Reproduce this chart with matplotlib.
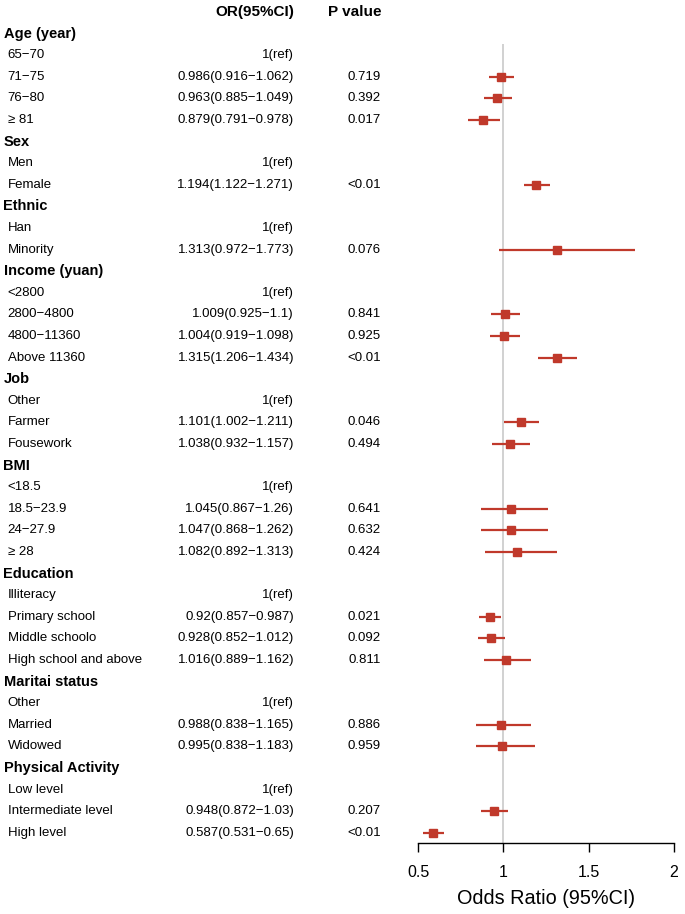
import matplotlib
matplotlib.use('Agg')
import matplotlib.pyplot as plt
import matplotlib.transforms as mtransforms
import numpy as np

plt.rcParams['font.family'] = ['Liberation Sans', 'DejaVu Sans']

nan = np.nan

# rows of the table (group headers have no estimate)
labels = ['Age (year)', '65\u221270', '71\u221275', '76\u221280', '\u2265 81',
          'Sex', 'Men', 'Female',
          'Ethnic', 'Han', 'Minority',
          'Income (yuan)', '<2800', '2800\u22124800', '4800\u221211360', 'Above 11360',
          'Job', 'Other', 'Farmer', 'Fousework',
          'BMI', '<18.5', '18.5\u221223.9', '24\u221227.9', '\u2265 28',
          'Education', 'Illiteracy', 'Primary school', 'Middle schoolo', 'High school and above',
          'Maritai status', 'Other', 'Married', 'Widowed',
          'Physical Activity', 'Low level', 'Intermediate level', 'High level']

is_group = [True, False, False, False, False,
            True, False, False,
            True, False, False,
            True, False, False, False, False,
            True, False, False, False,
            True, False, False, False, False,
            True, False, False, False, False,
            True, False, False, False,
            True, False, False, False]

is_ref = [False, True, False, False, False,
          False, True, False,
          False, True, False,
          False, True, False, False, False,
          False, True, False, False,
          False, True, False, False, False,
          False, True, False, False, False,
          False, True, False, False,
          False, True, False, False]

or_est = [nan, nan, 0.986, 0.963, 0.879,
          nan, nan, 1.194,
          nan, nan, 1.313,
          nan, nan, 1.009, 1.004, 1.315,
          nan, nan, 1.101, 1.038,
          nan, nan, 1.045, 1.047, 1.082,
          nan, nan, 0.92, 0.928, 1.016,
          nan, nan, 0.988, 0.995,
          nan, nan, 0.948, 0.587]

ci_low = [nan, nan, 0.916, 0.885, 0.791,
          nan, nan, 1.122,
          nan, nan, 0.972,
          nan, nan, 0.925, 0.919, 1.206,
          nan, nan, 1.002, 0.932,
          nan, nan, 0.867, 0.868, 0.892,
          nan, nan, 0.857, 0.852, 0.889,
          nan, nan, 0.838, 0.838,
          nan, nan, 0.872, 0.531]

ci_high = [nan, nan, 1.062, 1.049, 0.978,
           nan, nan, 1.271,
           nan, nan, 1.773,
           nan, nan, 1.1, 1.098, 1.434,
           nan, nan, 1.211, 1.157,
           nan, nan, 1.26, 1.262, 1.313,
           nan, nan, 0.987, 1.012, 1.162,
           nan, nan, 1.165, 1.183,
           nan, nan, 1.03, 0.65]

p_text = ['', '', '0.719', '0.392', '0.017',
          '', '', '<0.01',
          '', '', '0.076',
          '', '', '0.841', '0.925', '<0.01',
          '', '', '0.046', '0.494',
          '', '', '0.641', '0.632', '0.424',
          '', '', '0.021', '0.092', '0.811',
          '', '', '0.886', '0.959',
          '', '', '0.207', '<0.01']

xticks = [0.5, 1, 1.5, 2]

red = '#C0392B'
W, H = 685, 914
n = len(labels)
rows = np.arange(1, n + 1)

fig = plt.figure(figsize=(W / 100, H / 100), dpi=100)
# forest panel: x 0.5..2 spans pixels 418..674, rows 21.6 px apart starting at y=12
ax = fig.add_axes([418 / W, (H - 843) / H, 256 / W, 843 / H])
ax.set_xlim(0.5, 2)
ax.set_ylim((843 - 12) / 21.6, -12 / 21.6)

# reference line
ax.vlines(1, 1.5, ax.get_ylim()[0], color='#c9c9c9', lw=1.2, zorder=1)

est = np.array(or_est)
lo = np.array(ci_low)
hi = np.array(ci_high)
ok = ~np.isnan(est)
ax.hlines(rows[ok], lo[ok], hi[ok], color=red, lw=1.6, zorder=2)
ax.plot(est[ok], rows[ok], 's', color=red, ms=6.2, zorder=3)

for s in ['top', 'left', 'right']:
    ax.spines[s].set_visible(False)
ax.spines['bottom'].set_bounds(0.5, 2)
ax.spines['bottom'].set_linewidth(1.0)
ax.set_yticks([])
ax.set_xticks(xticks)
ax.set_xticklabels(['0.5', '1', '1.5', '2'])
ax.tick_params(axis='x', length=6.5, width=1.0, labelsize=11.5, pad=9)
ax.set_xlabel('Odds Ratio (95%CI)', fontsize=14.3, labelpad=7)

# table text
trans = mtransforms.blended_transform_factory(fig.transFigure, ax.transData)
fig.text(294 / W, 0, 'OR(95%CI)', transform=trans, ha='right', va='center',
         fontsize=11, fontweight='bold')
fig.text(381 / W, 0, 'P value', transform=trans, ha='right', va='center',
         fontsize=11, fontweight='bold')

for i in range(n):
    y = rows[i]
    if is_group[i]:
        fig.text(3.5 / W, y, labels[i], transform=trans, ha='left', va='center',
                 fontsize=10.5, fontweight='bold')
        continue
    fig.text(7.5 / W, y, labels[i], transform=trans, ha='left', va='center',
             fontsize=9.5)
    if is_ref[i]:
        or_str = '1(ref)'
    else:
        or_str = f'{or_est[i]:g}({ci_low[i]:g}\u2212{ci_high[i]:g})'
    fig.text(294 / W, y, or_str, transform=trans, ha='right', va='center',
             fontsize=9.5)
    if p_text[i]:
        fig.text(381 / W, y, p_text[i], transform=trans, ha='right', va='center',
                 fontsize=9.5)

plt.savefig('out.png', dpi=100)
